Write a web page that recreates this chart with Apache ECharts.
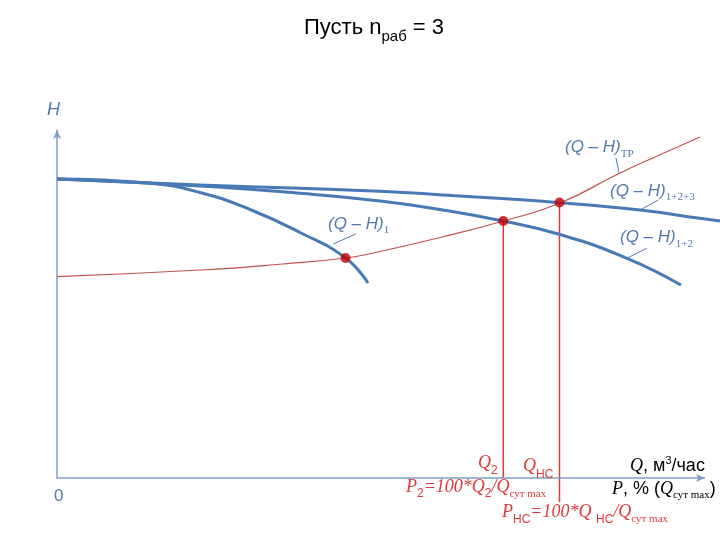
<!DOCTYPE html>
<html><head><meta charset="utf-8">
<script src="https://cdn.jsdelivr.net/npm/echarts@6/dist/echarts.min.js"></script>
<style>html,body{margin:0;padding:0;background:#fff}#c{width:720px;height:540px}</style>
</head><body><div id="c"></div>
<script>
// ---- data (Q, H) ----
const qhPump1 = [[0,299],[93,294.7],[143,285.5],[193,268.5],[243,245.5],[288.5,220],[311,195]];
const qhPump12 = [[0,299],[143,292],[243,284.7],[323,277],[383,268.5],[446,257],[503,243.5],[570,219.7],[624,193]];
const qhPump123 = [[0,299],[143,293],[243,289.7],[323,286.7],[403,282],[503,275.3],[583,268],[643,259.7],[663,257]];
const qhPipe = [[0,201.3],[143,208],[226,214],[288.5,220],[323,226.5],[383,240.5],[446.3,257],[503,275],[561,304],[598,321],[643,341]];
const workPoints = [[288.5,220],[446.3,257],[502.5,275.5]];
const dropQ2 = [[446.3,257],[446.3,0]];
const dropQns = [[502.5,275.5],[502.5,-24]];
const leader1 = [[276.3,234],[298.7,244]];
const leaderTP = [[559,320],[562,305]];
const leader123 = [[583,268],[601.3,278]];
const leader12 = [[569.7,219.7],[589.7,229.7]];
const xAxisEnd = 648;

const BLUE = '#4a7ab5', LBL = '#5379ae', RED = '#e0383a', AX = '#7f9fc8';
const SANS = '"Liberation Sans", Arial, sans-serif';
const SERIF = '"Liberation Serif", "Times New Roman", serif';

const ctx = document.createElement('canvas').getContext('2d');
function fnt(p){ return (p.it ? 'italic ' : '') + p.s + 'px ' + (p.serif ? SERIF : SANS); }
function richText(x, base, parts, color){
  const els = [];
  let cx = x;
  parts.forEach(p => {
    const f = fnt(p);
    ctx.font = f;
    const w = ctx.measureText(p.t).width;
    const by = base + (p.dy || 0);
    els.push({type:'text', silent:true, z:100,
      style:{text:p.t, x:cx, y:by - 0.34*p.s, font:f, fill:p.c || color,
        align:'left', verticalAlign:'middle', textAlign:'left', textVerticalAlign:'middle'}});
    cx += w;
  });
  return els;
}
const QH = [{t:'(Q – H)', s:17, it:true}];
let g = [];
g = g.concat(richText(304, 35, [{t:'Пусть n', s:22},{t:'раб', s:15, dy:7},{t:' = 3', s:22}], '#000'));
g = g.concat(richText(328, 230, QH.concat([{t:'1', s:11, serif:true, dy:4}]), LBL));
g = g.concat(richText(565, 153, QH.concat([{t:'ТР', s:11, serif:true, dy:4.5}]), LBL));
g = g.concat(richText(610, 197, QH.concat([{t:'1+2+3', s:11, serif:true, dy:4}]), LBL));
g = g.concat(richText(620, 243, QH.concat([{t:'1+2', s:11, serif:true, dy:5}]), LBL));
g = g.concat(richText(47, 116, [{t:'H', s:18, it:true}], LBL));
g = g.concat(richText(54, 502, [{t:'0', s:17}], LBL));
g = g.concat(richText(630, 472, [{t:'Q', s:18, it:true, serif:true},{t:', м', s:18},{t:'3', s:11, dy:-7},{t:'/час', s:18}], '#000'));
g = g.concat(richText(612, 495, [{t:'P', s:18, it:true, serif:true},{t:', % (', s:18},{t:'Q', s:18, it:true, serif:true},{t:'сут max', s:11, serif:true, dy:4},{t:')', s:18}], '#000'));
g = g.concat(richText(478, 469, [{t:'Q', s:18, it:true, serif:true},{t:'2', s:12, dy:6}], RED));
g = g.concat(richText(523, 472, [{t:'Q', s:18, it:true, serif:true},{t:'НС', s:12, dy:7}], RED));
g = g.concat(richText(406, 493, [{t:'P', s:18, it:true, serif:true},{t:'2', s:12, dy:5},{t:'=100*Q', s:18, it:true, serif:true},{t:'2', s:12, dy:5},{t:'/', s:18, it:true, serif:true},{t:'Q', s:18, it:true, serif:true},{t:'сут max', s:11, serif:true, dy:5}], RED));
g = g.concat(richText(502, 518, [{t:'P', s:18, it:true, serif:true},{t:'НС', s:12, dy:6},{t:'=100*Q ', s:18, it:true, serif:true},{t:'НС', s:12, dy:6},{t:'/', s:18, it:true, serif:true},{t:'Q', s:18, it:true, serif:true},{t:'сут max', s:11, serif:true, dy:5}], RED));

function line(data, color, width, z){
  return {type:'line', data:data, showSymbol:false, symbol:'none', clip:false, silent:true,
    lineStyle:{color:color, width:width}, z:z||2, animation:false};
}
function curve(data, color, width, z){
  const s = line(data, color, width, z); s.smooth = 0.5; return s;
}
const axisSeries = {type:'line', data:[], silent:true, animation:false, clip:false,
  markLine:{silent:true, animation:false, symbol:['none','arrow'], symbolSize:[6,9],
    label:{show:false}, lineStyle:{color:AX, width:1.5, type:'solid'},
    data:[[{coord:[0,0]},{coord:[xAxisEnd,0]}]]}};
const chart = echarts.init(document.getElementById('c'), null, {renderer:'canvas'});
chart.setOption({
  animation:false,
  backgroundColor:'#fff',
  grid:{left:57, right:0, top:130, bottom:62, containLabel:false},
  xAxis:{type:'value', min:0, max:663, axisLabel:{show:false}, axisTick:{show:false}, splitLine:{show:false},
    axisLine:{show:false}},
  yAxis:{type:'value', min:0, max:348, axisLabel:{show:false}, axisTick:{show:false}, splitLine:{show:false},
    axisLine:{show:true, onZero:false, symbol:['none','arrow'], symbolSize:[6,9], lineStyle:{color:AX, width:1.5}}},
  series:[
    axisSeries,
    curve(qhPipe, '#c0504d', 1.2, 3),
    curve(qhPump1, BLUE, 3, 4),
    curve(qhPump12, BLUE, 3, 4),
    curve(qhPump123, BLUE, 3, 4),
    line(dropQ2, RED, 1.5, 3),
    line(dropQns, RED, 1.5, 3),
    line(leader1, LBL, 1, 3),
    line(leaderTP, LBL, 1, 3),
    line(leader123, LBL, 1, 3),
    line(leader12, LBL, 1, 3),
    {type:'scatter', data:workPoints, symbolSize:10, itemStyle:{color:'#c00000'}, z:10, silent:true, animation:false}
  ],
  graphic:g
});
</script></body></html>
